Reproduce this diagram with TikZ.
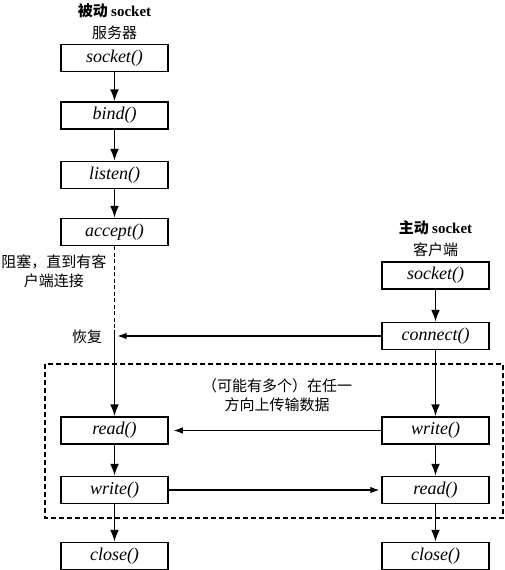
\documentclass[tikz,border=0pt]{standalone}
\usepackage{fontspec}
\setmainfont{Liberation Serif}
\newfontfamily\cjk{Noto Sans CJK SC}
\usepackage{tikz}
\usetikzlibrary{arrows.meta,positioning}

\begin{document}
\begin{tikzpicture}[x=1pt,y=-1pt,>={Latex[length=12pt,width=9pt]},
  fn/.style={draw,line width=1.5pt,minimum width=107pt,minimum height=27pt,inner sep=0pt,
    font=\fontsize{18}{20}\selectfont\itshape},
  lbl/.style={font=\fontsize{15}{19}\selectfont\cjk,align=center},
  flow/.style={->,line width=1.9pt},
  data/.style={-{Latex[length=9pt,width=6.5pt]},line width=1.1pt}]
\useasboundingbox (0,0) rectangle (505,570);
% server side
\node[lbl] (srvtitle) at (114.5,11) {\bfseries 被动 {\rmfamily socket}};
\node[lbl] (srvname) at (114.5,33) {服务器};
\node[fn] (ssock) at (114.5,58) {socket()};
\node[fn] (sbind) at (114.5,115.5) {bind()};
\node[fn] (slisten) at (114.5,175) {listen()};
\node[fn] (saccept) at (114.5,232) {accept()};
\node[fn] (sread) at (114.5,430.5) {read()};
\node[fn] (swrite) at (114.5,490) {write()};
\node[fn] (sclose) at (114.5,556) {close()};
\coordinate (resume) at (114.5,330);
\node[lbl] (block) at (54,271) {阻塞，直到有客\\户端连接};
\node[lbl] (resumetxt) at (87,337) {恢复};
% client side
\node[lbl] (clititle) at (435.5,228) {\bfseries 主动 {\rmfamily socket}};
\node[lbl] (cliname) at (435.5,250) {客户端};
\node[fn] (csock) at (435.5,275.5) {socket()};
\node[fn] (cconn) at (435.5,336) {connect()};
\node[fn] (cwrite) at (435.5,430.5) {write()};
\node[fn] (cread) at (435.5,490) {read()};
\node[fn] (cclose) at (435.5,556) {close()};
% data transfer area
\draw[line width=1.5pt,dash pattern=on 5pt off 3pt] (45,364) rectangle (503,518);
\node[lbl] (xfer) at (277,395) {（可能有多个）在任一\\方向上传输数据};
% connectors
\draw[flow] (ssock) -- (sbind);
\draw[flow] (sbind) -- (slisten);
\draw[flow] (slisten) -- (saccept);
\draw[line width=1.9pt,dash pattern=on 4pt off 2.5pt] (saccept) -- (resume);
\draw[flow] (resume) -- (sread);
\draw[flow] (sread) -- (swrite);
\draw[flow] (swrite) -- (sclose);
\draw[flow] (csock) -- (cconn);
\draw[flow] (cconn) -- (cwrite);
\draw[flow] (cwrite) -- (cread);
\draw[flow] (cread) -- (cclose);
\draw[data,shorten >=3pt] (cconn.west) -- (cconn.west -| sread.north);
\draw[data,shorten >=5pt] (cwrite) -- (sread);
\draw[data,shorten >=2pt] (swrite) -- (cread);
\end{tikzpicture}
\end{document}
